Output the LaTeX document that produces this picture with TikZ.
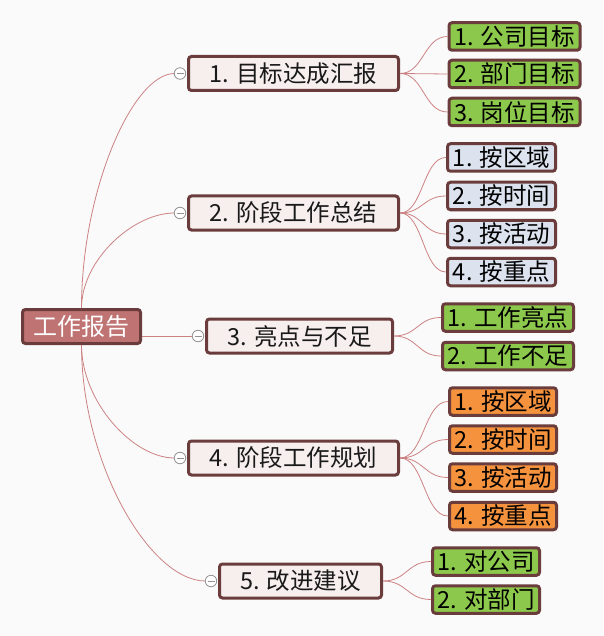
\documentclass[tikz,border=0pt]{standalone}
\usepackage{fontspec}
\setmainfont{Noto Sans CJK SC}
\usetikzlibrary{calc}

\definecolor{bgcol}{HTML}{FBFAFA}
\definecolor{rootfill}{HTML}{C07373}
\definecolor{edgebrown}{HTML}{6A3C3C}
\definecolor{branchfill}{HTML}{F7EEEE}
\definecolor{leafgreen}{HTML}{8CC84B}
\definecolor{leafblue}{HTML}{DCE3EF}
\definecolor{leaforange}{HTML}{F5923E}
\definecolor{linkcol}{HTML}{CC8282}

\begin{document}
\begin{tikzpicture}[
    x=1pt, y=-1pt,
    root node/.style={draw=edgebrown, fill=rootfill, line width=3pt, rounded corners=3pt, inner sep=0pt, minimum width=118pt, minimum height=34pt, text=white, font=\fontsize{24}{24}\selectfont},
    branch node/.style={draw=edgebrown, fill=branchfill, line width=3pt, rounded corners=3pt, inner sep=0pt, minimum height=34pt, text=black!90, font=\fontsize{23.5}{23.5}\selectfont},
    leaf node/.style={draw=edgebrown, line width=3pt, rounded corners=3pt, inner sep=0pt, minimum height=27.5pt, text=black, font=\fontsize{23.5}{23.5}\selectfont},
    main link/.style={draw=linkcol, line width=0.8pt},
    fold mark/.style={circle, draw=gray!85, fill=white, line width=0.8pt, inner sep=0pt, minimum size=11.5pt}
]

\fill[bgcol] (0,0) rectangle (603,636);

% 中心主题
\node[root node] (R) at (81.5,326.5) {工作报告};

% 分支主题
\node[branch node, minimum width=210pt] (B1) at (293.5,73.5) {1. 目标达成汇报};
\node[branch node, minimum width=210pt] (B2) at (293.5,213) {2. 阶段工作总结};
\node[branch node, minimum width=186pt] (B3) at (299.5,336) {3. 亮点与不足};
\node[branch node, minimum width=210pt] (B4) at (293.5,458) {4. 阶段工作规划};
\node[branch node, minimum width=162pt] (B5) at (300.5,581) {5. 改进建议};

% 子主题
\node[leaf node, fill=leafgreen, minimum width=131pt] (L11) at (514.5,36.5) {1. 公司目标};
\node[leaf node, fill=leafgreen, minimum width=131pt] (L12) at (514.5,74) {2. 部门目标};
\node[leaf node, fill=leafgreen, minimum width=131pt] (L13) at (514.5,112) {3. 岗位目标};

\node[leaf node, fill=leafblue, minimum width=108pt] (L21) at (501.5,157.5) {1. 按区域};
\node[leaf node, fill=leafblue, minimum width=108pt] (L22) at (501.5,196) {2. 按时间};
\node[leaf node, fill=leafblue, minimum width=108pt] (L23) at (501.5,234) {3. 按活动};
\node[leaf node, fill=leafblue, minimum width=108pt] (L24) at (501.5,272) {4. 按重点};

\node[leaf node, fill=leafgreen, minimum width=131pt] (L31) at (508,317.5) {1. 工作亮点};
\node[leaf node, fill=leafgreen, minimum width=131pt] (L32) at (508,356) {2. 工作不足};

\node[leaf node, fill=leaforange, minimum width=107pt] (L41) at (503,401.5) {1. 按区域};
\node[leaf node, fill=leaforange, minimum width=107pt] (L42) at (503,439.5) {2. 按时间};
\node[leaf node, fill=leaforange, minimum width=107pt] (L43) at (503,477.5) {3. 按活动};
\node[leaf node, fill=leaforange, minimum width=107pt] (L44) at (503,516) {4. 按重点};

\node[leaf node, fill=leafgreen, minimum width=107pt] (L51) at (486,561.5) {1. 对公司};
\node[leaf node, fill=leafgreen, minimum width=107pt] (L52) at (486,599.5) {2. 对部门};

% 折叠标记位置
\foreach \b in {1,...,5}
  \coordinate (F\b) at ($(B\b.west)+(-7,0)$);
\foreach \b in {1,...,5}
  \coordinate (E\b) at ($(F\b)+(-5.5,0)$);

% 中心到分支的连线
\foreach \b/\a in {1/north, 2/north, 4/south, 5/south}
  \draw[main link] (R.\a) .. controls ($(R.\a)!0.5!(R.\a |- E\b)$) and ($(E\b)!0.45!(E\b -| R.\a)$) .. (E\b);
\draw[main link] (R.east |- E3) -- (E3);

% 分支到子主题的连线
\foreach \b/\l in {1/1, 1/2, 1/3, 2/1, 2/2, 2/3, 2/4, 3/1, 3/2, 4/1, 4/2, 4/3, 4/4, 5/1, 5/2}
  \draw[main link] (B\b.east) .. controls ($(B\b.east)!0.5!(B\b.east -| L\b\l.west)$) and ($(L\b\l.west)!0.5!(L\b\l.west -| B\b.east)$) .. (L\b\l.west);

% 折叠标记
\foreach \b in {1,...,5} {
  \node[fold mark] (M\b) at (F\b) {};
  \draw[gray!85, line width=0.8pt] ($(M\b.center)+(-3.5,0)$) -- ($(M\b.center)+(3.5,0)$);
}

\end{tikzpicture}
\end{document}
